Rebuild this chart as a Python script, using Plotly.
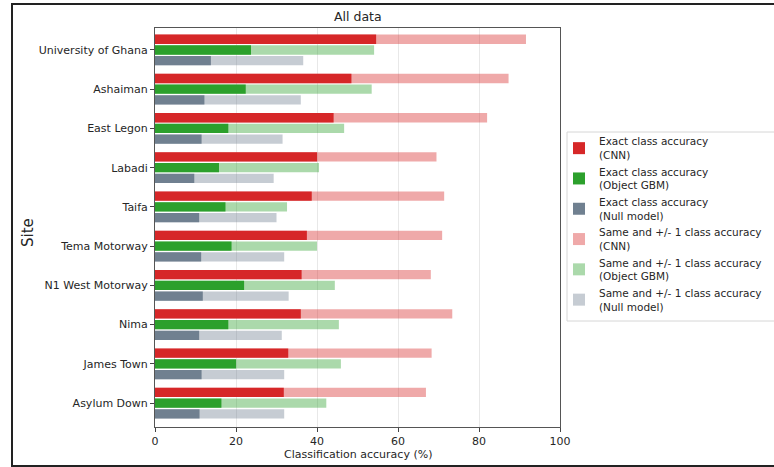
import plotly.graph_objects as go

sites = ["University of Ghana", "Ashaiman", "East Legon", "Labadi", "Taifa",
         "Tema Motorway", "N1 West Motorway", "Nima", "James Town", "Asylum Down"]
cnn_exact = [54.6, 48.5, 44.1, 40.0, 38.7, 37.5, 36.2, 36.0, 32.9, 31.8]
gbm_exact = [23.7, 22.4, 18.1, 15.8, 17.4, 18.9, 22.0, 18.1, 20.0, 16.4]
null_exact = [13.8, 12.2, 11.5, 9.7, 10.9, 11.4, 11.8, 10.9, 11.5, 11.0]
cnn_pm1 = [91.6, 87.3, 82.0, 69.5, 71.4, 70.9, 68.1, 73.4, 68.3, 66.9]
gbm_pm1 = [54.1, 53.5, 46.7, 40.5, 32.6, 40.0, 44.4, 45.4, 45.9, 42.3]
null_pm1 = [36.6, 36.0, 31.5, 29.3, 30.0, 31.9, 33.0, 31.3, 31.9, 31.9]
x_ticks = [0, 20, 40, 60, 80, 100]

W, H = 774, 467
L, R, T, B = 155, 560, 28, 427
pw, ph = R - L, B - T


def px(x):
    return (x - L) / pw


def py(y):
    return (B - y) / ph


FONT = "DejaVu Sans"
TXT = "#262626"

fig = go.Figure()

light = [
    ("Same and +/- 1 class accuracy<br>(CNN)", cnn_pm1, "rgba(214,39,40,0.4)", "1", 4),
    ("Same and +/- 1 class accuracy<br>(Object GBM)", gbm_pm1, "rgba(44,160,44,0.4)", "2", 5),
    ("Same and +/- 1 class accuracy<br>(Null model)", null_pm1, "rgba(112,128,144,0.4)", "3", 6),
]
exact = [
    ("Exact class accuracy<br>(CNN)", cnn_exact, "#d62728", "1", 1),
    ("Exact class accuracy<br>(Object GBM)", gbm_exact, "#2ca02c", "2", 2),
    ("Exact class accuracy<br>(Null model)", null_exact, "#708090", "3", 3),
]
for name, vals, col, og, rank in light + exact:
    fig.add_trace(go.Bar(
        y=sites, x=vals, orientation="h", name=name,
        marker=dict(color=col, line=dict(width=0)),
        offsetgroup=og, legendrank=rank,
    ))

fig.update_layout(
    width=W, height=H,
    margin=dict(l=L, r=W - R, t=T, b=H - B, autoexpand=False),
    paper_bgcolor="white", plot_bgcolor="white",
    barmode="group", bargap=0.18, bargroupgap=0.13,
    font=dict(family=FONT, size=11, color=TXT),
    showlegend=True,
    legend=dict(
        x=px(559), y=py(128), xanchor="left", yanchor="top",
        bgcolor="rgba(0,0,0,0)", borderwidth=0,
        font=dict(family=FONT, size=10.5, color=TXT),
        tracegroupgap=0, itemwidth=30,
    ),
    xaxis=dict(
        range=[0, 100], tickvals=x_ticks, ticks="outside", ticklen=4,
        tickcolor="#444", showgrid=True, gridcolor="#e8e8e8", gridwidth=1,
        showline=True, linecolor="#555", linewidth=1, mirror=True,
        zeroline=False, tickfont=dict(size=11, color=TXT),
    ),
    yaxis=dict(
        type="category", categoryorder="array", categoryarray=sites,
        range=[9.61, -0.56], ticks="outside", ticklen=4, tickcolor="#444",
        showgrid=False, showline=True, linecolor="#555", linewidth=1,
        mirror=True, zeroline=False, tickfont=dict(size=11, color=TXT),
    ),
    annotations=[
        dict(text="All data", x=0.5, y=py(16), xref="paper", yref="paper",
             showarrow=False, font=dict(size=12.5, color=TXT),
             xanchor="center", yanchor="middle"),
        dict(text="Classification accuracy (%)", x=0.5, y=py(454),
             xref="paper", yref="paper", showarrow=False,
             font=dict(size=11, color=TXT), xanchor="center", yanchor="middle"),
        dict(text="Site", x=px(28), y=py(232), xref="paper", yref="paper",
             showarrow=False, textangle=-90, font=dict(size=15, color=TXT),
             xanchor="center", yanchor="middle"),
    ],
    shapes=[
        dict(type="rect", xref="paper", yref="paper",
             x0=px(567), x1=px(800), y0=py(321), y1=py(132),
             line=dict(color="#d6d6d6", width=1), fillcolor="rgba(0,0,0,0)",
             layer="below"),
        dict(type="rect", xref="paper", yref="paper",
             x0=px(12), x1=px(790), y0=py(466), y1=py(4),
             line=dict(color="#222", width=2), fillcolor="rgba(0,0,0,0)",
             layer="above"),
    ],
)

fig.write_html("out.html")
